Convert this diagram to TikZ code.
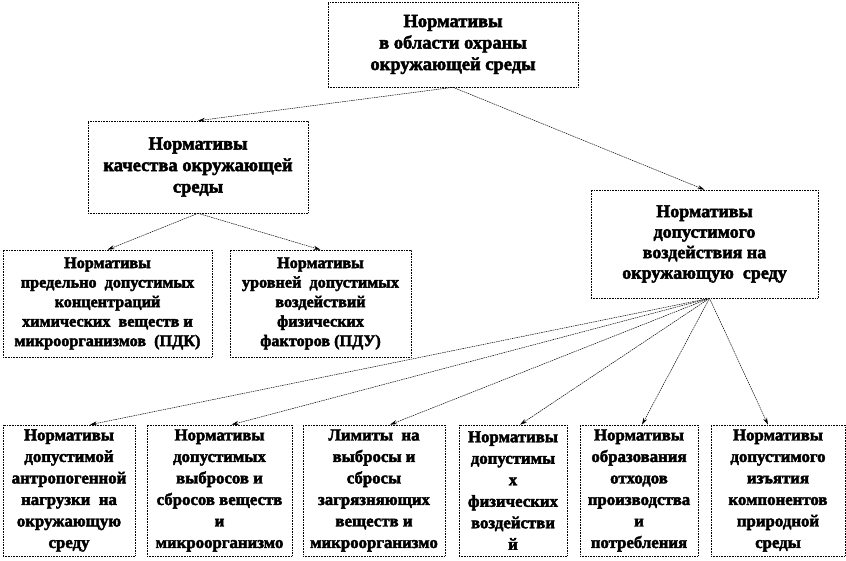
\documentclass[tikz,border=0pt]{standalone}
\usepackage{fontspec}
\setmainfont{Liberation Serif}[BoldFont={Liberation Serif Bold},BoldFeatures={FakeBold=2.5}]
\usetikzlibrary{arrows.meta}

\begin{document}
\begin{tikzpicture}
[x=1pt,y=-1pt,%
  every node/.style={shape=rectangle,draw,densely dotted,line width=0.6pt,align=center,inner sep=1pt},%
  big/.style={font=\fontsize{18.5}{21.5}\selectfont\bfseries},%
  mid/.style={font=\fontsize{16.2}{19.5}\selectfont\bfseries},%
  low/.style={font=\fontsize{16.8}{21.5}\selectfont\bfseries,minimum height=131pt},%
  link/.style={-{Stealth[length=7pt,width=4pt]},dash pattern=on 1.5pt off 0.8pt,line width=0.5pt}]
\useasboundingbox (0,0) rectangle (846,560);
% top level
\node[big,minimum width=250pt,minimum height=85pt] (root) at (453,44.5)
  {Нормативы\\в области охраны\\окружающей среды};
% second level
\node[big,minimum width=220pt,minimum height=92pt] (quality) at (198,167)
  {Нормативы\\качества окружающей\\среды};
\node[big,font=\fontsize{18}{20.5}\selectfont\bfseries,minimum width=227pt,minimum height=108pt] (impact) at (704.5,244)
  {Нормативы\\допустимого\\воздействия на\\окружающую~ среду};
% quality branch
\node[mid,minimum width=209pt,minimum height=107pt] (pdk) at (107.5,303.5)
  {Нормативы\\предельно~ допустимых\\концентраций\\химических~ веществ и\\микроорганизмов~ (ПДК)};
\node[mid,minimum width=181pt,minimum height=107pt] (pdu) at (320.5,303.5)
  {Нормативы\\уровней~ допустимых\\воздействий\\физических\\факторов (ПДУ)};
% impact branch
\node[low,minimum width=132pt] (n1) at (69,490.5)
  {Нормативы\\допустимой\\антропогенной\\нагрузки~ на\\окружающую\\среду};
\node[low,minimum width=145pt] (n2) at (219.5,490.5)
  {Нормативы\\допустимых\\выбросов и\\сбросов веществ\\и\\микроорганизмо};
\node[low,minimum width=142pt] (n3) at (374,490.5)
  {Лимиты~ на\\выбросы и\\сбросы\\загрязняющих\\веществ и\\микроорганизмо};
\node[low,minimum width=108pt] (n4) at (513,490.5)
  {Нормативы\\допустимы\\х\\физических\\воздействи\\й};
\node[low,minimum width=118pt] (n5) at (639,490.5)
  {Нормативы\\образования\\отходов\\производства\\и\\потребления};
\node[low,minimum width=134pt] (n6) at (778,490.5)
  {Нормативы\\допустимого\\изъятия\\компонентов\\природной\\среды};
\path
(root.south) edge[link] (quality.north)
(root.south) edge[link] (impact.north)
(quality.south) edge[link] (pdk.north)
(quality.south) edge[link] (pdu.north)
([xshift=5pt]impact.south) edge[link] ([xshift=21pt]n1.north)
([xshift=5pt]impact.south) edge[link] ([xshift=12pt]n2.north)
([xshift=5pt]impact.south) edge[link] ([xshift=16pt]n3.north)
([xshift=5pt]impact.south) edge[link] ([xshift=7pt]n4.north)
([xshift=5pt]impact.south) edge[link] ([xshift=3pt]n5.north)
([xshift=5pt]impact.south) edge[link] ([xshift=-10pt]n6.north);
\end{tikzpicture}
\end{document}
